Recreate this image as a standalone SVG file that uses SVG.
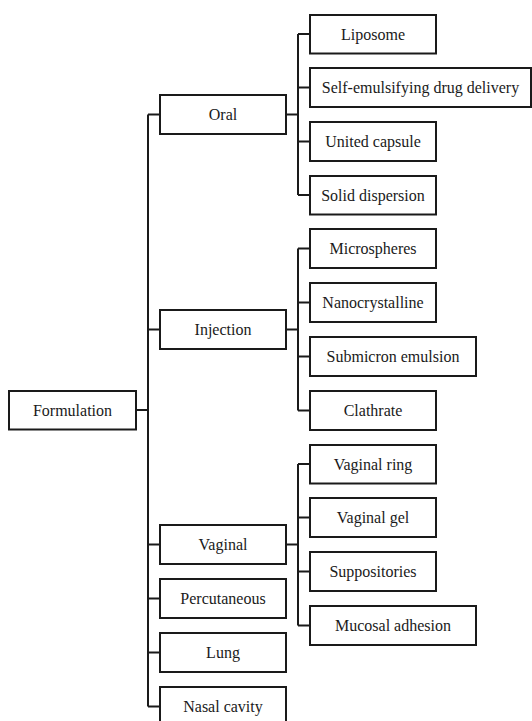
<svg xmlns="http://www.w3.org/2000/svg" width="532" height="721" viewBox="0 0 532 721">
<style>
.b{fill:#fff;stroke:#1a1a1a;stroke-width:2}
.t{font-family:"Liberation Serif","Times New Roman",serif;font-size:16px;fill:#1a1a1a;text-anchor:middle}
.c{fill:none;stroke:#1a1a1a;stroke-width:2}
</style>
<rect width="532" height="721" fill="#fff"/>
<g id="connectors">
<path class="c" d="M136 410H148M148 114.5V706.5M148 114.5H160M148 329.5H160M148 544.5H160M148 598.5H160M148 652.5H160M148 706.5H160"/>
<path class="c" d="M286 114.5H298M298 34V195M298 34H310M298 87.5H310M298 141.5H310M298 195H310"/>
<path class="c" d="M286 329.5H298M298 248.5V410.5M298 248.5H310M298 302.5H310M298 356.5H310M298 410.5H310"/>
<path class="c" d="M286 544.5H298M298 464V625.5M298 464H310M298 517.5H310M298 571.5H310M298 625.5H310"/>
</g>
<g id="formulation"><rect class="b" x="9" y="391" width="127" height="38.5"/><text class="t" x="72.5" y="415.5">Formulation</text></g>
<g id="oral"><rect class="b" x="160" y="95" width="126" height="39"/><text class="t" x="223" y="120">Oral</text></g>
<g id="injection"><rect class="b" x="160" y="310" width="126" height="39"/><text class="t" x="223" y="335">Injection</text></g>
<g id="vaginal"><rect class="b" x="160" y="525" width="126" height="39"/><text class="t" x="223" y="550">Vaginal</text></g>
<g id="percutaneous"><rect class="b" x="160" y="579" width="126" height="39"/><text class="t" x="223" y="604">Percutaneous</text></g>
<g id="lung"><rect class="b" x="160" y="633" width="126" height="39"/><text class="t" x="223" y="658">Lung</text></g>
<g id="nasal"><rect class="b" x="160" y="687" width="126" height="39"/><text class="t" x="223" y="712">Nasal cavity</text></g>
<g id="liposome"><rect class="b" x="310" y="15" width="126" height="38.5"/><text class="t" x="373" y="39.5">Liposome</text></g>
<g id="self-emulsifying"><rect class="b" x="310" y="68" width="221" height="39"/><text class="t" x="420.5" y="93">Self-emulsifying drug delivery</text></g>
<g id="united-capsule"><rect class="b" x="310" y="122" width="126" height="39"/><text class="t" x="373" y="147">United capsule</text></g>
<g id="solid-dispersion"><rect class="b" x="310" y="176" width="126" height="38.5"/><text class="t" x="373" y="200.5">Solid dispersion</text></g>
<g id="microspheres"><rect class="b" x="310" y="229" width="126" height="39"/><text class="t" x="373" y="254">Microspheres</text></g>
<g id="nanocrystalline"><rect class="b" x="310" y="283" width="126" height="39"/><text class="t" x="373" y="308">Nanocrystalline</text></g>
<g id="submicron"><rect class="b" x="310" y="337" width="166" height="39"/><text class="t" x="393" y="362">Submicron emulsion</text></g>
<g id="clathrate"><rect class="b" x="310" y="391" width="126" height="39"/><text class="t" x="373" y="416">Clathrate</text></g>
<g id="vaginal-ring"><rect class="b" x="310" y="445" width="126" height="38.5"/><text class="t" x="373" y="469.5">Vaginal ring</text></g>
<g id="vaginal-gel"><rect class="b" x="310" y="498" width="126" height="39"/><text class="t" x="373" y="523">Vaginal gel</text></g>
<g id="suppositories"><rect class="b" x="310" y="552" width="126" height="39"/><text class="t" x="373" y="577">Suppositories</text></g>
<g id="mucosal"><rect class="b" x="310" y="606" width="166" height="39"/><text class="t" x="393" y="631">Mucosal adhesion</text></g>
</svg>
